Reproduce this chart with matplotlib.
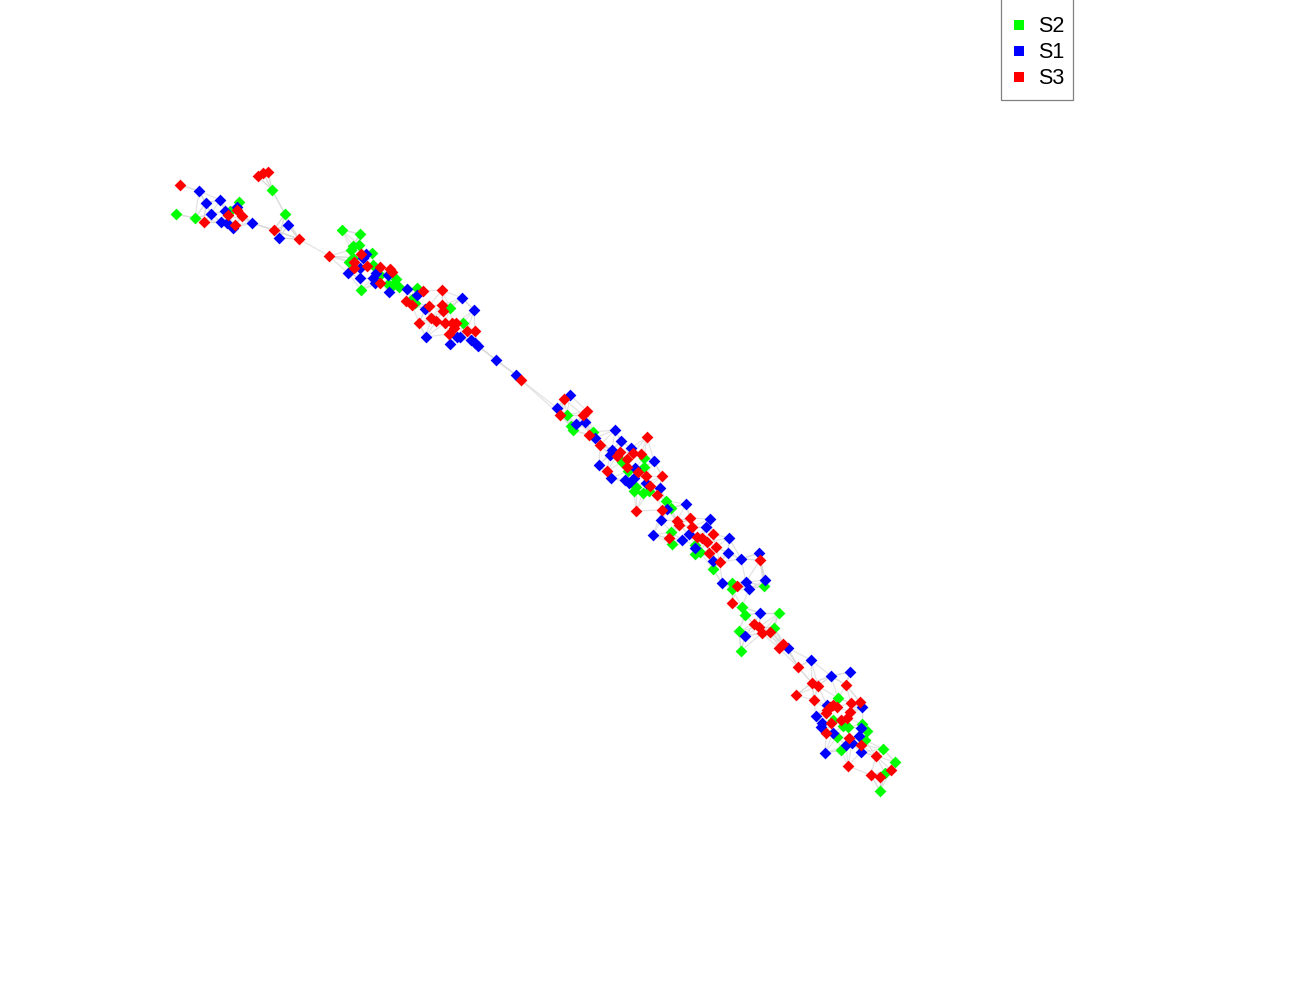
import numpy as np
import matplotlib
matplotlib.use("Agg")
import matplotlib.pyplot as plt
from matplotlib.collections import LineCollection
from matplotlib.lines import Line2D
from matplotlib.patches import Rectangle

s2_x = [176,195,239,230,272,285,342,360,359,353,351,372,353,349,373,361,396,388,393,399,417,415,450,463,412,380,
        567,571,573,593,622,644,644,628,636,634,643,649,666,671,671,672,695,700,713,732,732,764,695,
        742,745,779,774,739,741,838,833,843,848,862,867,837,865,841,883,895,885,880]
s2_y = [214,218,202,211,190,214,230,234,245,246,250,253,258,262,265,290,279,284,285,287,288,303,308,323,299,275,
        415,426,430,432,462,458,467,471,487,491,493,491,501,508,532,544,554,552,569,583,589,586,545,
        607,615,613,628,631,651,698,720,726,727,724,731,737,740,750,749,762,773,791]
s1_x = [199,220,206,211,225,237,221,227,233,252,288,279,496,366,363,360,348,360,376,373,375,388,389,407,417,425,462,474,426,450,457,460,471,475,478,
        516,570,557,576,585,595,615,621,631,612,610,599,654,635,611,625,629,634,646,660,686,667,661,653,682,689,710,706,729,728,741,759,713,695,722,746,749,765,
        760,745,788,811,831,850,816,827,862,822,821,833,859,861,852,846,861,825]
s1_y = [191,200,203,214,211,207,222,223,228,223,225,238,360,254,258,268,273,278,273,278,283,275,292,289,295,309,298,310,337,344,337,337,340,343,346,
        375,395,408,424,422,438,430,441,448,450,455,465,461,468,478,480,483,478,483,488,504,509,520,535,540,534,519,527,538,553,559,553,561,548,583,582,589,580,
        613,636,648,660,676,672,716,705,707,723,727,733,736,728,743,745,752,753]
s3_x = [180,258,263,268,204,228,237,242,235,274,299,329,361,354,354,367,380,390,392,380,423,442,406,412,429,442,443,431,436,419,445,452,456,454,449,467,475,
        521,564,560,583,587,589,600,647,620,617,633,641,627,627,607,638,646,662,650,657,636,662,677,679,690,692,713,697,702,707,716,709,720,669,760,737,
        732,754,759,762,770,783,779,798,812,818,846,796,814,851,860,833,837,830,827,826,850,847,841,831,826,849,861,876,848,871,880,891]
s3_y = [185,176,173,172,222,215,210,216,225,230,239,256,254,262,268,266,267,269,272,283,291,290,301,305,306,305,311,318,321,323,323,323,323,328,334,331,331,
        380,399,415,415,411,435,445,437,452,456,453,454,459,467,471,472,476,476,486,495,511,510,521,525,518,527,534,537,538,542,547,553,562,538,560,586,
        603,624,627,633,632,644,648,667,683,686,685,695,700,703,702,705,707,707,710,713,712,718,720,723,733,738,745,756,766,775,777,770]

series_names = ["S2", "S1", "S3"]
series_colors = ["#00ff00", "#0000ff", "#ff0000"]
series_x = [s2_x, s1_x, s3_x]
series_y = [s2_y, s1_y, s3_y]

# long edges between the clusters
bridge_from_x = [299,329,478,496,521,521,252,252,228,285,288]
bridge_from_y = [239,256,346,360,380,380,223,223,215,214,225]
bridge_to_x = [329,353,496,516,557,560,274,299,252,299,299]
bridge_to_y = [256,258,360,375,408,415,230,239,223,239,239]

plt.rcParams["font.family"] = ["Liberation Sans", "DejaVu Sans"]
fig = plt.figure(figsize=(13, 10), dpi=100, facecolor="white")
ax = fig.add_axes([0, 0, 1, 1])
ax.set_xlim(0, 1300)
ax.set_ylim(1000, 0)
ax.axis("off")

# faint network edges: each node linked to its nearest close neighbours
X = np.concatenate([np.array(a, float) for a in series_x])
Y = np.concatenate([np.array(a, float) for a in series_y])
P = np.column_stack([X, Y])
D = np.hypot(X[:, None] - X[None, :], Y[:, None] - Y[None, :])
segs = []
for i in range(len(P)):
    for j in np.argsort(D[i])[1:6]:
        if D[i, j] <= 28:
            segs.append([P[i], P[j]])
for x0, y0, x1, y1 in zip(bridge_from_x, bridge_from_y, bridge_to_x, bridge_to_y):
    segs.append([(x0, y0), (x1, y1)])
ax.add_collection(LineCollection(segs, colors="#d8d8d8", linewidths=0.9, alpha=0.7, zorder=1))

for z, (name, c, xs, ys) in enumerate(zip(series_names, series_colors, series_x, series_y)):
    ax.scatter(xs, ys, s=36, marker="D", c=c, linewidths=0, zorder=2 + z, label=name)

# legend box and entries
ax.add_patch(Rectangle((1000.5, -2), 72.5, 102, facecolor="white", edgecolor="#808080", linewidth=0.9, zorder=5))
handles = [Line2D([], [], linestyle="none", marker="s", markersize=7.2, markerfacecolor=c,
                  markeredgewidth=0, label=n) for n, c in zip(series_names, series_colors)]
leg = ax.legend(handles=handles, loc="upper left", bbox_to_anchor=(1014 / 1300, 1 - 16.5 / 1000),
                bbox_transform=fig.transFigure, borderaxespad=0, borderpad=0, fontsize=15.5, frameon=False,
                labelspacing=0.23, handlelength=0.45, handletextpad=0.65)
leg.set_zorder(6)

fig.savefig("out.png", dpi=100, facecolor="white")
